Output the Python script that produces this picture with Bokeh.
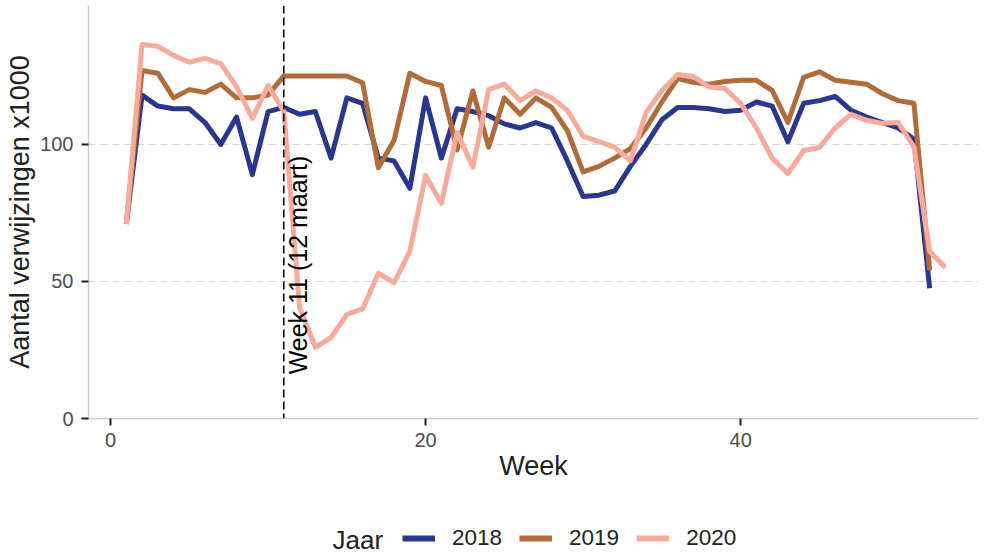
from bokeh.plotting import figure
from bokeh.layouts import column
from bokeh.models import (Range1d, FixedTicker, Span, Label, Legend, LegendItem,
                          ColumnDataSource)
from bokeh.embed import file_html
from bokeh.resources import INLINE

FONT = "Liberation Sans"

# ---- data ----
weeks_2018 = list(range(1, 53))
values_2018 = [71, 118, 114, 113, 113, 108, 100, 110, 89, 112,
               113.5, 111, 112, 95, 117, 115, 95, 94, 84, 117,
               95, 113, 112, 110.5, 107.5, 106, 108, 106, 94, 81,
               81.5, 83, 92, 100, 109, 113.5, 113.5, 113, 112, 112.5,
               115.5, 114, 101, 115, 116, 117.5, 112.5, 110, 108, 106,
               102, 47.5]

weeks_2019 = list(range(1, 53))
values_2019 = [71, 127, 126, 117, 120, 119, 122, 117, 117, 118,
               125, 125, 125, 125, 125, 122.5, 91.5, 101.5, 126, 123,
               121.5, 98, 119.5, 99, 117, 111, 117, 113.5, 105, 90,
               92, 95, 98.5, 106, 115.5, 124, 122.7, 122, 123, 123.4,
               123.4, 119.7, 108, 124.5, 126.5, 123.4, 122.7, 122, 118.5, 116,
               115, 54]

weeks_2020 = list(range(1, 54))
values_2020 = [71, 136.5, 135.8, 132.5, 130, 131.4, 129.5, 121, 109.5, 121.5,
               112, 40.5, 26, 29.5, 38, 40, 53, 49.6, 61, 88.7,
               78.5, 104.4, 91.7, 120, 122, 116, 119.5, 117, 112.4, 103,
               101, 99, 94, 111.7, 119.7, 125.5, 124.8, 121, 120.4, 115,
               106, 95, 89.4, 97.8, 98.9, 106, 111, 108.8, 107.7, 108,
               99, 61, 55]

years = ["2018", "2019", "2020"]
colors = ["#2a378c", "#b06d3c", "#f6ab9d"]
legend_title = "Jaar"

x_ticks = [0, 20, 40]
y_ticks = [0, 50, 100]
marker_week = 11
marker_text = "Week 11 (12 maart)"

sources = [ColumnDataSource(data=dict(week=wk, value=vals))
           for wk, vals in ((weeks_2018, values_2018),
                            (weeks_2019, values_2019),
                            (weeks_2020, values_2020))]

# ---- main chart ----
p = figure(width=985, height=485, output_backend="svg", toolbar_location=None,
           x_range=Range1d(-1.4, 55.1), y_range=Range1d(0, 150.7),
           min_border_left=88, min_border_right=7, min_border_top=5,
           min_border_bottom=67)
p.outline_line_color = None
p.background_fill_color = "white"
p.border_fill_color = "white"

p.xgrid.visible = False
p.ygrid.grid_line_color = "#d4d4d4"
p.ygrid.grid_line_dash = "7 5"
p.ygrid.grid_line_width = 1

p.xaxis.ticker = FixedTicker(ticks=x_ticks)
p.yaxis.ticker = FixedTicker(ticks=y_ticks)
p.xaxis.axis_label = "Week"
p.yaxis.axis_label = "Aantal verwijzingen x1000"

for ax in (p.xaxis[0], p.yaxis[0]):
    ax.axis_line_color = "#cccccc"
    ax.axis_line_width = 1.5
    ax.major_tick_line_color = "#222222"
    ax.major_tick_line_width = 2
    ax.major_tick_in = 0
    ax.major_tick_out = 7
    ax.minor_tick_line_color = None
    ax.major_label_text_font = FONT
    ax.major_label_text_font_size = "20px"
    ax.major_label_text_color = "#4d4d4d"
    ax.axis_label_text_font = FONT
    ax.axis_label_text_font_size = "27px"
    ax.axis_label_text_font_style = "normal"
    ax.axis_label_text_color = "#222222"

p.xaxis.major_label_standoff = 7
p.xaxis.axis_label_standoff = 1
p.yaxis.major_label_standoff = 8
p.yaxis.axis_label_standoff = 2

for src, col in zip(sources, colors):
    p.line(x="week", y="value", source=src, line_color=col,
           line_width=5, line_join="round")

p.add_layout(Span(location=marker_week, dimension="height", line_color="black",
                  line_width=1.5, line_dash="8 4"))
p.add_layout(Label(x=marker_week, y=56, text=marker_text, angle=90,
                   angle_units="deg", text_align="center", text_baseline="top",
                   text_font=FONT, text_font_size="25px", text_color="black"))

# ---- legend strip below the chart (its frame is aligned with the chart's) ----
lg = figure(width=985, height=72, output_backend="svg", toolbar_location=None,
            x_axis_location=None, y_axis_location=None,
            x_range=Range1d(0, 1), y_range=Range1d(-2, -1),
            min_border_left=0, min_border_right=0, min_border_top=0,
            min_border_bottom=0)
lg.outline_line_color = None
lg.grid.visible = False
lg.background_fill_color = "white"
lg.border_fill_color = "white"

# same series, out of this strip's visible range: they only feed the legend keys
key_renderers = [lg.line(x="week", y="value", source=src, line_color=c, line_width=6)
                 for src, c in zip(sources, colors)]
legend = Legend(items=[LegendItem(label=y, renderers=[r])
                       for y, r in zip(years, key_renderers)],
                orientation="horizontal", location=(314, 6),
                glyph_width=33, glyph_height=22, label_standoff=17, spacing=17,
                padding=0, margin=0, border_line_color=None,
                background_fill_alpha=0,
                label_text_font=FONT, label_text_font_size="22.5px",
                label_text_color="#222222")
lg.add_layout(legend)
lg.add_layout(Label(x=244, y=18, x_units="screen", y_units="screen",
                    text=legend_title, text_align="left", text_baseline="middle",
                    text_font=FONT, text_font_size="26px", text_color="#222222"))

open("out.html", "w").write(file_html(column(p, lg, spacing=0), INLINE))
